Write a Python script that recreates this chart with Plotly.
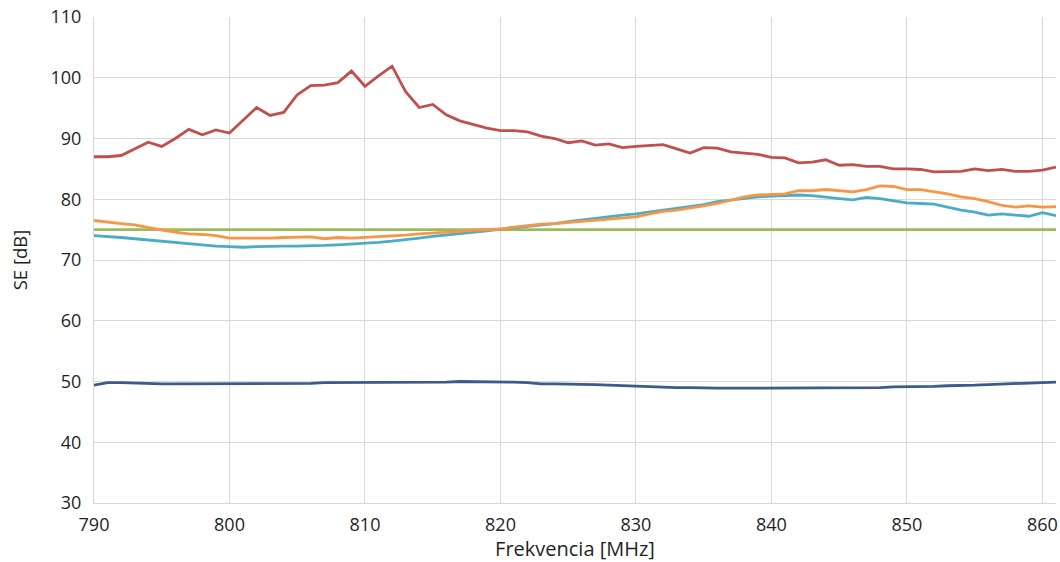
import plotly.graph_objects as go

# Frequency axis, 1 MHz steps
freq = list(range(790, 862))

se_red = [87.0, 87.0, 87.2, 88.3, 89.4, 88.7, 90.0, 91.5, 90.6, 91.4,
          90.9, 93.0, 95.1, 93.8, 94.3, 97.2, 98.7, 98.8, 99.2, 101.1,
          98.6, 100.3, 101.9, 97.7, 95.1, 95.6, 93.9, 92.9, 92.3, 91.7,
          91.3, 91.3, 91.1, 90.4, 90.0, 89.3, 89.6, 88.9, 89.1, 88.5,
          88.7, 88.9, 89.0, 88.3, 87.6, 88.5, 88.4, 87.8, 87.6, 87.4,
          86.9, 86.8, 86.0, 86.1, 86.5, 85.6, 85.7, 85.4, 85.4, 85.0,
          85.0, 84.9, 84.5, 84.5, 84.6, 85.0, 84.7, 84.9, 84.6, 84.6,
          84.8, 85.3]

se_orange = [76.5, 76.2, 76.0, 75.8, 75.3, 74.9, 74.6, 74.3, 74.2, 74.0,
             73.6, 73.6, 73.5, 73.6, 73.7, 73.8, 73.8, 73.5, 73.7, 73.6,
             73.7, 73.8, 73.9, 74.1, 74.3, 74.4, 74.5, 74.7, 74.9, 75.0,
             75.1, 75.4, 75.7, 75.9, 76.0, 76.2, 76.4, 76.6, 76.8, 77.0,
             77.1, 77.6, 78.0, 78.2, 78.5, 78.9, 79.3, 79.9, 80.4, 80.7,
             80.8, 80.9, 81.4, 81.4, 81.6, 81.4, 81.2, 81.6, 82.2, 82.1,
             81.6, 81.6, 81.3, 80.9, 80.4, 80.1, 79.6, 79.0, 78.7, 78.9,
             78.7, 78.8]

se_cyan = [74.0, 73.9, 73.7, 73.5, 73.3, 73.0, 72.9, 72.6, 72.4, 72.3,
           72.2, 72.1, 72.2, 72.3, 72.3, 72.3, 72.3, 72.4, 72.5, 72.6,
           72.7, 72.9, 73.1, 73.3, 73.6, 73.9, 74.1, 74.3, 74.5, 74.8,
           75.1, 75.3, 75.5, 75.8, 76.0, 76.3, 76.6, 76.9, 77.2, 77.4,
           77.6, 77.9, 78.2, 78.5, 78.9, 79.1, 79.6, 79.9, 80.2, 80.4,
           80.5, 80.6, 80.7, 80.6, 80.3, 80.1, 79.9, 80.3, 80.1, 79.8,
           79.4, 79.3, 79.2, 78.7, 78.2, 77.9, 77.4, 77.6, 77.4, 77.2,
           77.8, 77.3]

se_navy = [49.4, 49.8, 49.8, 49.7, 49.6, 49.6, 49.6, 49.6, 49.6, 49.6,
           49.6, 49.6, 49.7, 49.7, 49.7, 49.7, 49.7, 49.8, 49.8, 49.8,
           49.8, 49.8, 49.9, 49.9, 49.9, 49.9, 49.9, 50.0, 50.0, 50.0,
           50.0, 49.9, 49.8, 49.6, 49.6, 49.6, 49.5, 49.5, 49.4, 49.3,
           49.2, 49.1, 49.1, 49.0, 49.0, 48.9, 48.9, 48.9, 48.9, 48.9,
           48.9, 48.9, 48.9, 48.9, 48.9, 48.9, 48.9, 49.0, 49.0, 49.1,
           49.1, 49.2, 49.2, 49.3, 49.3, 49.4, 49.5, 49.6, 49.7, 49.7,
           49.9, 49.9]

limit_level = 75.0
se_green = [limit_level] * len(freq)

series = [
    (se_navy, "#3C5B8A"),
    (se_green, "#9BBB59"),
    (se_cyan, "#4BACC6"),
    (se_orange, "#F79646"),
    (se_red, "#C0504D"),
]

fig = go.Figure()
for values, color in series:
    fig.add_trace(go.Scatter(
        x=freq, y=values, mode="lines",
        line=dict(color=color, width=2.8),
        showlegend=False, hoverinfo="skip",
    ))

font_family = "Open Sans, Noto Sans, sans-serif"
grid = "#D9D9D9"

fig.update_layout(
    width=1060, height=562,
    margin=dict(l=94, r=2, t=17, b=59),
    paper_bgcolor="white", plot_bgcolor="white",
    font=dict(family=font_family, size=18, color="#1F1F1F"),
)
fig.update_xaxes(
    range=[790, 861], tick0=790, dtick=10,
    showgrid=True, gridcolor=grid, gridwidth=1,
    showline=True, linecolor=grid, linewidth=1,
    zeroline=False, ticks="", ticklabelstandoff=5,
    tickfont=dict(size=18),
    title=dict(text="Frekvencia [MHz]", standoff=3,
               font=dict(size=20)),
)
fig.update_yaxes(
    range=[30, 110], tick0=30, dtick=10,
    showgrid=True, gridcolor=grid, gridwidth=1,
    showline=True, linecolor=grid, linewidth=1,
    zeroline=False, ticks="", ticklabelstandoff=8,
    tickfont=dict(size=18),
    title=dict(text="SE [dB]", standoff=18,
               font=dict(size=18.5)),
)

fig.write_html("out.html")
